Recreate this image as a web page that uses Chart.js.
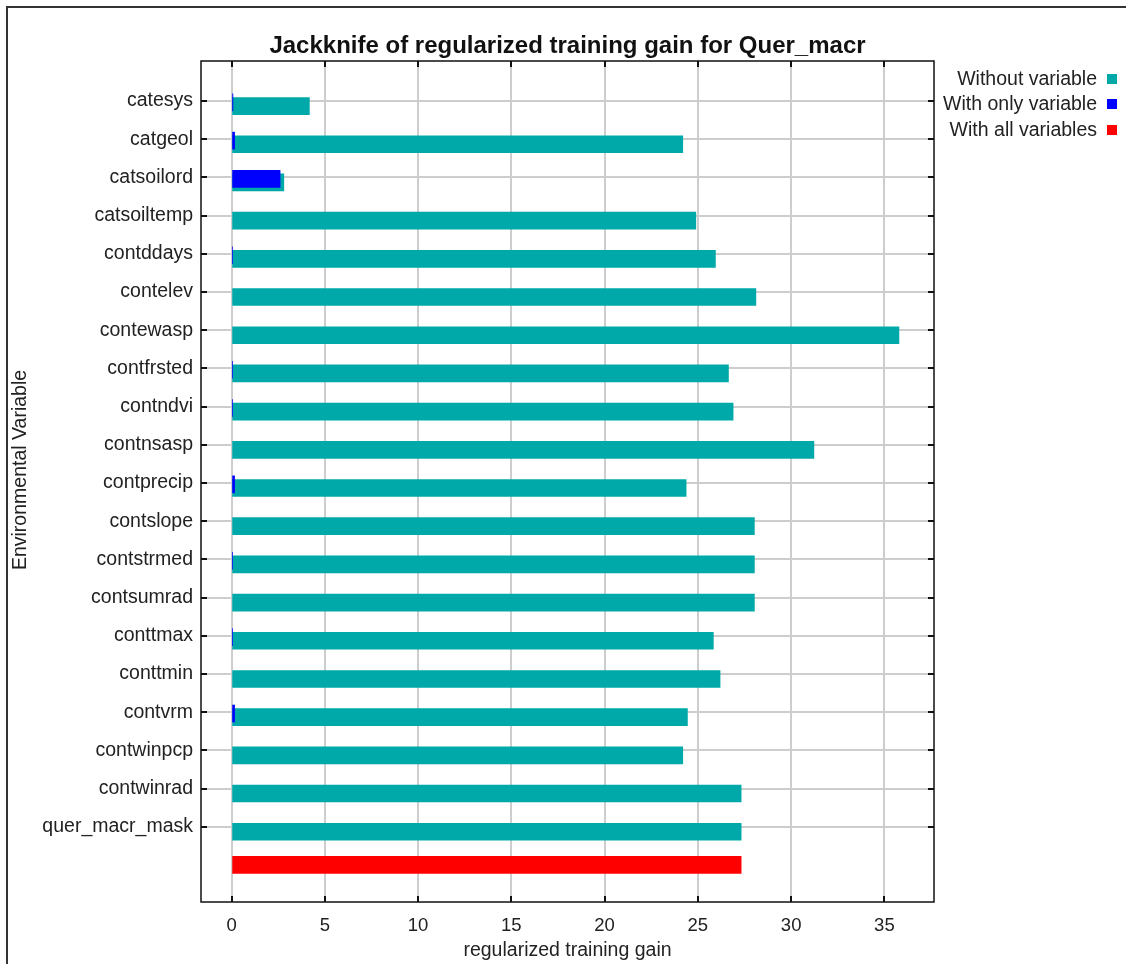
<!DOCTYPE html>
<html>
<head>
<meta charset="utf-8">
<script src="https://cdn.jsdelivr.net/npm/chart.js@4.4.0/dist/chart.umd.min.js"></script>
<style>
  html, body { margin: 0; padding: 0; background: #fff; }
  #wrap { width: 1126px; height: 964px; }
</style>
</head>
<body>
<div id="wrap"><canvas id="jk" width="1126" height="964"></canvas></div>
<script>
  // valores
  const variables = [
    "catesys", "catgeol", "catsoilord", "catsoiltemp", "contddays", "contelev",
    "contewasp", "contfrsted", "contndvi", "contnsasp", "contprecip", "contslope",
    "contstrmed", "contsumrad", "conttmax", "conttmin", "contvrm", "contwinpcp",
    "contwinrad", "quer_macr_mask"
  ];
  const withoutVariable = [
    4.17, 24.19, 2.80, 24.89, 25.94, 28.11, 35.78, 26.64, 26.89, 31.22,
    24.37, 28.03, 28.03, 28.03, 25.83, 26.19, 24.44, 24.19, 27.32, 27.32
  ];
  const withOnlyVariable = [
    0.07, 0.16, 2.60, 0, 0.05, 0, 0, 0.05, 0.05, 0,
    0.16, 0, 0.05, 0, 0.05, 0, 0.16, 0, 0, 0
  ];
  const withAllVariables = 27.32;
  const xTicks = [0, 5, 10, 15, 20, 25, 30, 35];

  const cores = {
    without: "#00a9a9",
    only: "#0000ff",
    all: "#ff0000",
    grid: "#cdcdcd",
    texto: "#222"
  };
  const fonte = "'Liberation Sans', Arial, sans-serif";

  /* linhas: cada variável numa posição inteira, "todas" na seguinte */
  const dsWithout = withoutVariable.map((v, i) => ({ x: v, y: i + 0.13 }));
  const dsOnly = withOnlyVariable.map((v, i) => ({ x: v || null, y: i + 0.035 }));
  const dsAll = [{ x: withAllVariables, y: variables.length }];

  const extras = {
    id: "extras",
    afterDraw(chart) {
      const { ctx, chartArea: a, scales } = chart;
      ctx.save();

      // marcas internas dos eixos
      ctx.strokeStyle = "#111";
      ctx.lineWidth = 2;
      ctx.beginPath();
      scales.y.ticks.forEach(t => {
        const py = Math.round(scales.y.getPixelForValue(t.value));
        ctx.moveTo(a.left, py); ctx.lineTo(a.left + 6, py);
        ctx.moveTo(a.right - 6, py); ctx.lineTo(a.right, py);
      });
      scales.x.ticks.forEach(t => {
        const px = Math.round(scales.x.getPixelForValue(t.value));
        ctx.moveTo(px, a.top); ctx.lineTo(px, a.top + 6);
        ctx.moveTo(px, a.bottom - 6); ctx.lineTo(px, a.bottom);
      });
      ctx.stroke();

      // moldura do gráfico
      ctx.lineWidth = 1.5;
      ctx.strokeRect(a.left, a.top, a.right - a.left, a.bottom - a.top);

      // moldura externa (só topo e esquerda visíveis)
      ctx.lineWidth = 2;
      ctx.strokeStyle = "#333";
      ctx.strokeRect(7, 7, 1200, 1100);

      // título
      ctx.fillStyle = "#111";
      ctx.font = `bold 24px ${fonte}`;
      ctx.textAlign = "center";
      ctx.textBaseline = "alphabetic";
      ctx.fillText("Jackknife of regularized training gain for Quer_macr", (a.left + a.right) / 2, 53);

      // título do eixo x
      ctx.fillStyle = cores.texto;
      ctx.font = `19.5px ${fonte}`;
      ctx.textBaseline = "middle";
      ctx.fillText("regularized training gain", (a.left + a.right) / 2, 951);

      // título do eixo y
      ctx.save();
      ctx.translate(21, 470);
      ctx.rotate(-Math.PI / 2);
      ctx.fillText("Environmental Variable", 0, 0);
      ctx.restore();

      // legenda
      const legenda = [
        ["Without variable", cores.without, 80],
        ["With only variable", cores.only, 105],
        ["With all variables", cores.all, 131]
      ];
      ctx.textAlign = "right";
      legenda.forEach(([txt, cor, y]) => {
        ctx.fillStyle = cores.texto;
        ctx.fillText(txt, 1097, y);
        ctx.fillStyle = cor;
        ctx.fillRect(1107, y - 6, 10, 10);
      });

      ctx.restore();
    }
  };

  new Chart(document.getElementById("jk"), {
    type: "bar",
    data: {
      datasets: [
        { label: "With only variable", data: dsOnly, backgroundColor: cores.only, barThickness: 17 },
        { label: "Without variable", data: dsWithout, backgroundColor: cores.without, barThickness: 17 },
        { label: "With all variables", data: dsAll, backgroundColor: cores.all, barThickness: 17 }
      ]
    },
    options: {
      indexAxis: "y",
      responsive: false,
      animation: false,
      devicePixelRatio: 1,
      layout: { padding: { left: 0, top: 61, right: 192, bottom: 0 } },
      datasets: { bar: { grouped: false } },
      plugins: {
        legend: { display: false },
        tooltip: { enabled: false },
        title: { display: false }
      },
      scales: {
        x: {
          type: "linear",
          min: -1.64,
          max: 37.66,
          afterBuildTicks: s => { s.ticks = xTicks.map(v => ({ value: v })); },
          afterFit: s => { s.height = 62; },
          border: { display: false },
          grid: { color: cores.grid, lineWidth: 2, drawTicks: false },
          ticks: {
            color: cores.texto,
            padding: 13,
            font: { family: fonte, size: 18.5 }
          }
        },
        y: {
          type: "linear",
          reverse: true,
          offset: false,
          min: -1.05,
          max: 20.97,
          afterBuildTicks: s => { s.ticks = variables.map((_, i) => ({ value: i })); },
          afterFit: s => { s.width = 201; },
          border: { display: false },
          grid: { color: cores.grid, lineWidth: 2, drawTicks: false, offset: false },
          ticks: {
            color: cores.texto,
            padding: 8,
            font: { family: fonte, size: 19.5 },
            callback: v => variables[v] ?? ""
          }
        }
      }
    },
    plugins: [extras]
  });
</script>
</body>
</html>
